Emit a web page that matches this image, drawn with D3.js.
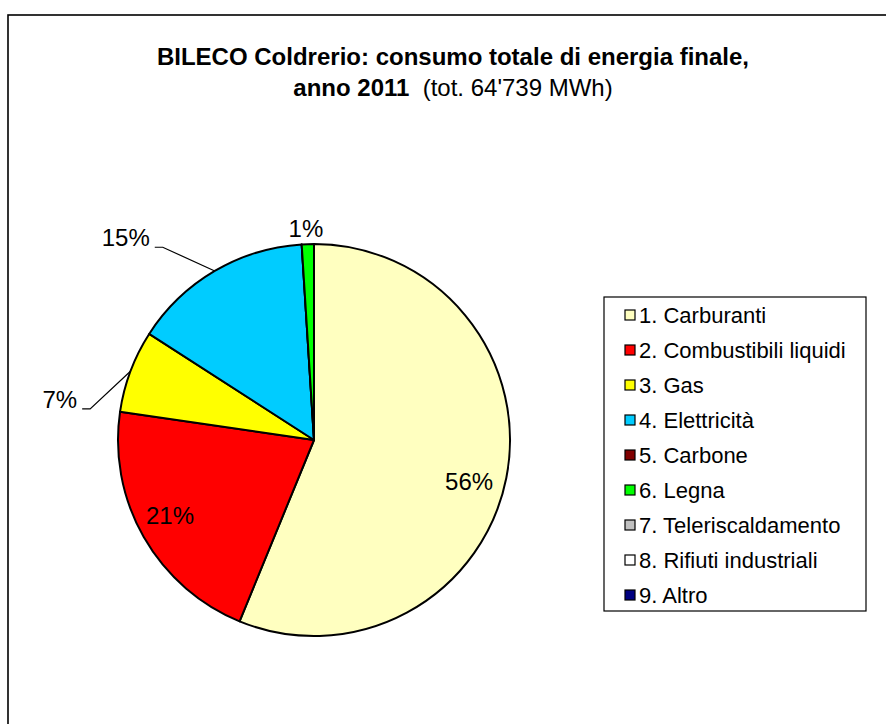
<!DOCTYPE html>
<html>
<head>
<meta charset="utf-8">
<script src="https://cdn.jsdelivr.net/npm/d3@7"></script>
<style>
  body { margin: 0; background: #fff; }
  text { font-family: "Liberation Sans", Arial, sans-serif; fill: #000; }
</style>
</head>
<body>
<svg id="chart"></svg>
<script>
// categories and shares (percent of the 64'739 MWh total)
var categories = ["1. Carburanti", "2. Combustibili liquidi", "3. Gas", "4. Elettricità",
                  "5. Carbone", "6. Legna", "7. Teleriscaldamento", "8. Rifiuti industriali", "9. Altro"];
var shares = [56.2, 21.1, 6.8, 14.9, 0, 1.0, 0, 0, 0];
var colors = ["#ffffc0", "#ff0000", "#ffff00", "#00ccff", "#800000", "#00ff00", "#c0c0c0", "#ffffff", "#000080"];

var titleLine1 = "BILECO Coldrerio: consumo totale di energia finale,";
var titleBold2 = "anno 2011";
var titleNormal2 = "  (tot. 64'739 MWh)";

var dimensions = { width: 886, height: 724 };

// where each label sits: "in" = inside the slice, "out" = outside with leader line
// r is a fraction of the pie radius, da an angle nudge in degrees
var labelLayout = {
    "1. Carburanti":           { mode: "in",  r: 0.82, da: 4 },
    "2. Combustibili liquidi": { mode: "in",  r: 0.83, da: 2 },
    "3. Gas":                  { mode: "out", r: 1.153, da: -12.6 },
    "4. Elettricità":          { mode: "out", r: 1.25, da: -7.7 },
    "6. Legna":                { mode: "plain", r: 1.08, da: -0.4 }
};

var svg = d3.select("#chart")
            .attr("width", dimensions.width)
            .attr("height", dimensions.height);

// chart area frame (runs off the right and bottom edge)
svg.append("rect")
    .attr("x", 8)
    .attr("y", 15)
    .attr("width", 1000)
    .attr("height", 1000)
    .attr("fill", "white")
    .attr("stroke", "black")
    .attr("stroke-width", 1.6);

// title
svg.append("text")
    .attr("x", 453)
    .attr("y", 65)
    .attr("text-anchor", "middle")
    .style("font-size", "24px")
    .style("font-weight", "bold")
    .text(titleLine1);

var t2 = svg.append("text")
    .attr("x", 453)
    .attr("y", 96)
    .attr("text-anchor", "middle")
    .style("font-size", "24px")
    .style("white-space", "pre");
t2.append("tspan").style("font-weight", "bold").text(titleBold2);
t2.append("tspan").text(titleNormal2);

// pie
var cx = 314, cy = 440, radius = 196;
var total = d3.sum(shares);

var dataset = categories.map((c, i) => ({ name: c, value: shares[i], color: colors[i] }));

var pie = d3.pie()
    .sort(null)
    .value(d => d.value);

var arc = d3.arc()
    .innerRadius(0)
    .outerRadius(radius);

var arcs = pie(dataset);

var g = svg.append("g")
    .attr("transform", `translate(${cx},${cy})`);

g.selectAll("path")
    .data(arcs)
    .enter()
    .append("path")
    .attr("d", arc)
    .attr("fill", d => d.data.color)
    .attr("stroke", "black")
    .attr("stroke-width", 2)
    .attr("stroke-linejoin", "round");

function polar(angle, r) {
    return [r * Math.sin(angle), -r * Math.cos(angle)];
}

arcs.forEach(function(d) {
    var lay = labelLayout[d.data.name];
    if (!lay || d.value === 0) return;
    var pct = Math.round(d.value / total * 100) + "%";
    var mid = (d.startAngle + d.endAngle) / 2;
    var ang = mid + lay.da * Math.PI / 180;
    var p = polar(ang, lay.r * radius);

    if (lay.mode === "in" || lay.mode === "plain") {
        g.append("text")
            .attr("x", p[0])
            .attr("y", p[1])
            .attr("dy", "0.35em")
            .attr("text-anchor", "middle")
            .style("font-size", "24px")
            .text(pct);
    } else {
        var edge = polar(mid, radius);
        var elbow = p;
        var end = [elbow[0] - 8, elbow[1]];
        g.append("polyline")
            .attr("points", [edge, elbow, end].map(q => q.join(",")).join(" "))
            .attr("fill", "none")
            .attr("stroke", "black")
            .attr("stroke-width", 1.2);
        g.append("text")
            .attr("x", end[0] - 5)
            .attr("y", end[1])
            .attr("dy", "-0.05em")
            .attr("text-anchor", "end")
            .style("font-size", "24px")
            .text(pct);
    }
});

// legend
var legendX = 604, legendY = 297, legendW = 262, legendH = 314;
var rowStep = 35;

svg.append("rect")
    .attr("x", legendX)
    .attr("y", legendY)
    .attr("width", legendW)
    .attr("height", legendH)
    .attr("fill", "white")
    .attr("stroke", "black")
    .attr("stroke-width", 1.2);

var rows = svg.selectAll(".legend-row")
    .data(dataset)
    .enter()
    .append("g")
    .attr("class", "legend-row")
    .attr("transform", (d, i) => `translate(${legendX + 21},${legendY + 18 + i * rowStep})`);

rows.append("rect")
    .attr("x", 0)
    .attr("y", -5)
    .attr("width", 10)
    .attr("height", 10)
    .attr("fill", d => d.color)
    .attr("stroke", "black")
    .attr("stroke-width", 1.2);

rows.append("text")
    .attr("x", 14)
    .attr("y", 0)
    .attr("dy", "0.36em")
    .style("font-size", "22px")
    .text(d => d.name);
</script>
</body>
</html>
